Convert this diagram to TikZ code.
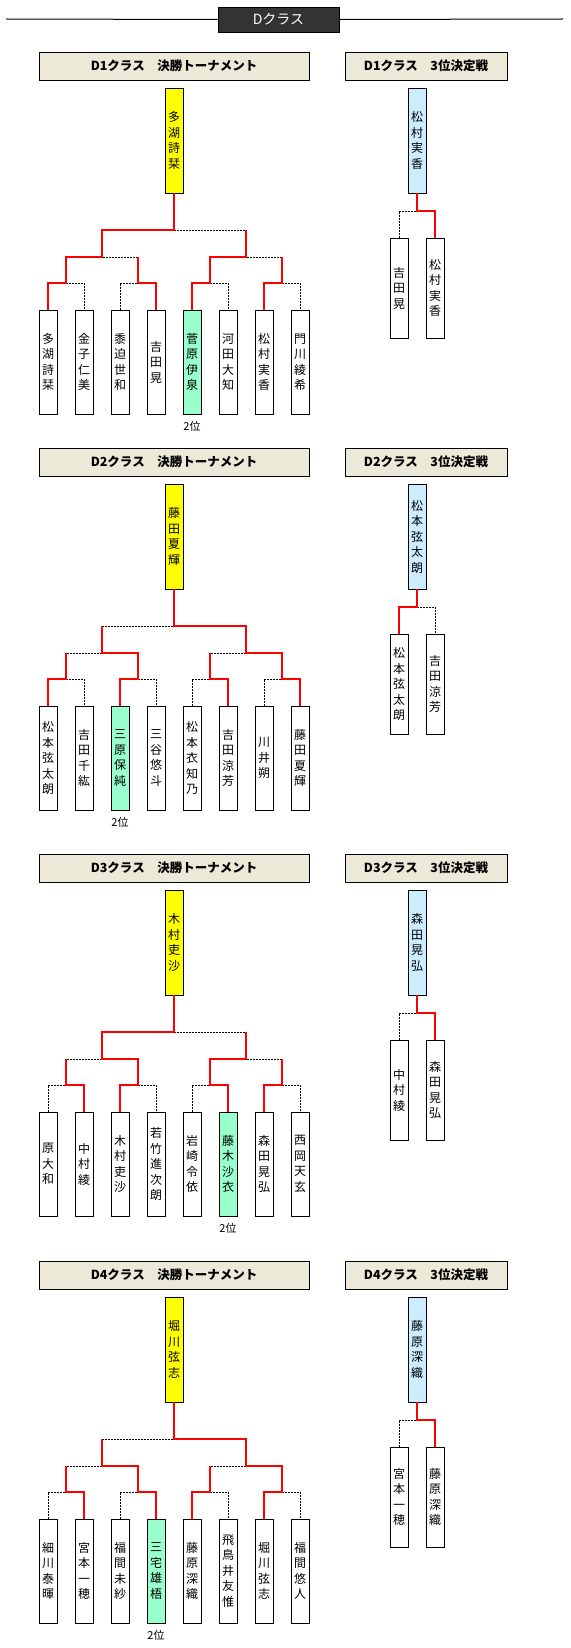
\documentclass[tikz,border=0pt]{standalone}
\usepackage{fontspec}
\setmainfont{Noto Sans CJK JP}
\usetikzlibrary{positioning}

\definecolor{titlegray}{HTML}{333333}
\definecolor{headbeige}{HTML}{ECE9D8}
\definecolor{firstyellow}{HTML}{FFFF00}
\definecolor{secondgreen}{HTML}{99FFCC}
\definecolor{thirdblue}{HTML}{CCECFF}
\definecolor{winred}{HTML}{FF0000}

\tikzset{
  classhead/.style={draw, line width=0.9pt, fill=headbeige, minimum height=28pt, inner sep=0pt, font=\fontsize{12.5}{14}\selectfont\bfseries},
  player/.style={draw, line width=0.9pt, fill=white, minimum width=18pt, minimum height=104pt, inner sep=0pt, align=center, font=\fontsize{12}{15.5}\selectfont},
  rank/.style={inner sep=0pt, font=\fontsize{11}{12}\selectfont},
  lostline/.style={line width=0.9pt, dash pattern=on 1.5pt off 1.5pt},
  wonline/.style={line width=2pt, winred}
}

\begin{document}
\begin{tikzpicture}[x=1pt, y=-1pt]
  \useasboundingbox (0,0) rectangle (570,1648);
  \fill[white] (0,0) rectangle (570,1648);

  \node[fill=titlegray, draw=black, line width=0.6pt, minimum width=121pt, minimum height=25pt, inner sep=0pt, text=white, font=\fontsize{14}{16}\selectfont] (title) at (278.5,19.5) {Dクラス};
  \draw[line width=1pt] (6,19) -- (title.west);
  \draw[line width=1pt] (title.east) -- (563,19);

  % D1
  \node[classhead, minimum width=270pt] (head) at (174,66) {D1クラス　決勝トーナメント};
  \node[classhead, minimum width=162pt] (bhead) at (426,66) {D1クラス　3位決定戦};
  \node[player, fill=firstyellow, minimum height=105pt] (win) at (174,140.5) {多\\湖\\詩\\栞};
  \foreach \i/\c/\n in {1/white/多\\湖\\詩\\栞, 2/white/金\\子\\仁\\美, 3/white/黍\\迫\\世\\和, 4/white/吉\\田\\晃, 5/secondgreen/菅\\原\\伊\\泉, 6/white/河\\田\\大\\知, 7/white/松\\村\\実\\香, 8/white/門\\川\\綾\\希}
    \node[player, fill=\c] (p\i) at ({12+36*\i},362) {\n};
  \foreach \k in {1,...,4} \coordinate (r\k) at ({72*\k-6},283);
  \foreach \k in {1,2} \coordinate (s\k) at ({144*\k-42},257);
  \coordinate (f) at (174,230);
  \foreach \a/\b/\m in {p1.north/p2.north/r1, p3.north/p4.north/r2, p5.north/p6.north/r3, p7.north/p8.north/r4, r1/r2/s1, r3/r4/s2, s1/s2/f}
    \draw[lostline] (\a) |- (\m) -| (\b);
  \draw[wonline] (p4.north) |- (r2) -- (r2 |- s1);
  \draw[wonline] (p7.north) |- (r4) -- (r4 |- s2);
  \draw[wonline] (p5.north) |- (r3) |- (s2) -- (s2 |- f);
  \draw[wonline] (p1.north) |- (r1) |- (s1) |- (f) -- (win.south);
  \node[rank, below=7pt of p5] (second) {2位};
  \node[player, fill=thirdblue, minimum height=105pt] (bwin) at (417,140.5) {松\\村\\実\\香};
  \node[player, minimum height=100pt] (b1) at (399,288) {吉\\田\\晃};
  \node[player, minimum height=100pt] (b2) at (435,288) {松\\村\\実\\香};
  \coordinate (bm) at (417,211);
  \draw[lostline] (b1.north) |- (bm) -| (b2.north);
  \draw[wonline] (b2.north) |- (bm) -- (bwin.south);

  % D2
  \begin{scope}[yshift=-396pt]
  \node[classhead, minimum width=270pt] (head) at (174,66) {D2クラス　決勝トーナメント};
  \node[classhead, minimum width=162pt] (bhead) at (426,66) {D2クラス　3位決定戦};
  \node[player, fill=firstyellow, minimum height=105pt] (win) at (174,140.5) {藤\\田\\夏\\輝};
  \foreach \i/\c/\n in {1/white/松\\本\\弦\\太\\朗, 2/white/吉\\田\\千\\紘, 3/secondgreen/三\\原\\保\\純, 4/white/三\\谷\\悠\\斗, 5/white/松\\本\\衣\\知\\乃, 6/white/吉\\田\\涼\\芳, 7/white/川\\井\\朔, 8/white/藤\\田\\夏\\輝}
    \node[player, fill=\c] (p\i) at ({12+36*\i},362) {\n};
  \foreach \k in {1,...,4} \coordinate (r\k) at ({72*\k-6},283);
  \foreach \k in {1,2} \coordinate (s\k) at ({144*\k-42},257);
  \coordinate (f) at (174,230);
  \foreach \a/\b/\m in {p1.north/p2.north/r1, p3.north/p4.north/r2, p5.north/p6.north/r3, p7.north/p8.north/r4, r1/r2/s1, r3/r4/s2, s1/s2/f}
    \draw[lostline] (\a) |- (\m) -| (\b);
  \draw[wonline] (p1.north) |- (r1) -- (r1 |- s1);
  \draw[wonline] (p6.north) |- (r3) -- (r3 |- s2);
  \draw[wonline] (p3.north) |- (r2) |- (s1) -- (s1 |- f);
  \draw[wonline] (p8.north) |- (r4) |- (s2) |- (f) -- (win.south);
  \node[rank, below=7pt of p3] (second) {2位};
  \node[player, fill=thirdblue, minimum height=105pt] (bwin) at (417,140.5) {松\\本\\弦\\太\\朗};
  \node[player, minimum height=100pt] (b1) at (399,288) {松\\本\\弦\\太\\朗};
  \node[player, minimum height=100pt] (b2) at (435,288) {吉\\田\\涼\\芳};
  \coordinate (bm) at (417,211);
  \draw[lostline] (b1.north) |- (bm) -| (b2.north);
  \draw[wonline] (b1.north) |- (bm) -- (bwin.south);
  \end{scope}

  % D3
  \begin{scope}[yshift=-802pt]
  \node[classhead, minimum width=270pt] (head) at (174,66) {D3クラス　決勝トーナメント};
  \node[classhead, minimum width=162pt] (bhead) at (426,66) {D3クラス　3位決定戦};
  \node[player, fill=firstyellow, minimum height=105pt] (win) at (174,140.5) {木\\村\\吏\\沙};
  \foreach \i/\c/\n in {1/white/原\\大\\和, 2/white/中\\村\\綾, 3/white/木\\村\\吏\\沙, 4/white/若\\竹\\進\\次\\朗, 5/white/岩\\崎\\令\\依, 6/secondgreen/藤\\木\\沙\\衣, 7/white/森\\田\\晃\\弘, 8/white/西\\岡\\天\\玄}
    \node[player, fill=\c] (p\i) at ({12+36*\i},362) {\n};
  \foreach \k in {1,...,4} \coordinate (r\k) at ({72*\k-6},283);
  \foreach \k in {1,2} \coordinate (s\k) at ({144*\k-42},257);
  \coordinate (f) at (174,230);
  \foreach \a/\b/\m in {p1.north/p2.north/r1, p3.north/p4.north/r2, p5.north/p6.north/r3, p7.north/p8.north/r4, r1/r2/s1, r3/r4/s2, s1/s2/f}
    \draw[lostline] (\a) |- (\m) -| (\b);
  \draw[wonline] (p2.north) |- (r1) -- (r1 |- s1);
  \draw[wonline] (p7.north) |- (r4) -- (r4 |- s2);
  \draw[wonline] (p6.north) |- (r3) |- (s2) -- (s2 |- f);
  \draw[wonline] (p3.north) |- (r2) |- (s1) |- (f) -- (win.south);
  \node[rank, below=7pt of p6] (second) {2位};
  \node[player, fill=thirdblue, minimum height=105pt] (bwin) at (417,140.5) {森\\田\\晃\\弘};
  \node[player, minimum height=100pt] (b1) at (399,288) {中\\村\\綾};
  \node[player, minimum height=100pt] (b2) at (435,288) {森\\田\\晃\\弘};
  \coordinate (bm) at (417,211);
  \draw[lostline] (b1.north) |- (bm) -| (b2.north);
  \draw[wonline] (b2.north) |- (bm) -- (bwin.south);
  \end{scope}

  % D4
  \begin{scope}[yshift=-1209pt]
  \node[classhead, minimum width=270pt] (head) at (174,66) {D4クラス　決勝トーナメント};
  \node[classhead, minimum width=162pt] (bhead) at (426,66) {D4クラス　3位決定戦};
  \node[player, fill=firstyellow, minimum height=105pt] (win) at (174,140.5) {堀\\川\\弦\\志};
  \foreach \i/\c/\n in {1/white/細\\川\\泰\\暉, 2/white/宮\\本\\一\\穂, 3/white/福\\間\\未\\紗, 4/secondgreen/三\\宅\\雄\\梧, 5/white/藤\\原\\深\\織, 6/white/飛\\鳥\\井\\友\\惟, 7/white/堀\\川\\弦\\志, 8/white/福\\間\\悠\\人}
    \node[player, fill=\c] (p\i) at ({12+36*\i},362) {\n};
  \foreach \k in {1,...,4} \coordinate (r\k) at ({72*\k-6},283);
  \foreach \k in {1,2} \coordinate (s\k) at ({144*\k-42},257);
  \coordinate (f) at (174,230);
  \foreach \a/\b/\m in {p1.north/p2.north/r1, p3.north/p4.north/r2, p5.north/p6.north/r3, p7.north/p8.north/r4, r1/r2/s1, r3/r4/s2, s1/s2/f}
    \draw[lostline] (\a) |- (\m) -| (\b);
  \draw[wonline] (p2.north) |- (r1) -- (r1 |- s1);
  \draw[wonline] (p5.north) |- (r3) -- (r3 |- s2);
  \draw[wonline] (p4.north) |- (r2) |- (s1) -- (s1 |- f);
  \draw[wonline] (p7.north) |- (r4) |- (s2) |- (f) -- (win.south);
  \node[rank, below=7pt of p4] (second) {2位};
  \node[player, fill=thirdblue, minimum height=105pt] (bwin) at (417,140.5) {藤\\原\\深\\織};
  \node[player, minimum height=100pt] (b1) at (399,288) {宮\\本\\一\\穂};
  \node[player, minimum height=100pt] (b2) at (435,288) {藤\\原\\深\\織};
  \coordinate (bm) at (417,211);
  \draw[lostline] (b1.north) |- (bm) -| (b2.north);
  \draw[wonline] (b2.north) |- (bm) -- (bwin.south);
  \end{scope}
\end{tikzpicture}
\end{document}
